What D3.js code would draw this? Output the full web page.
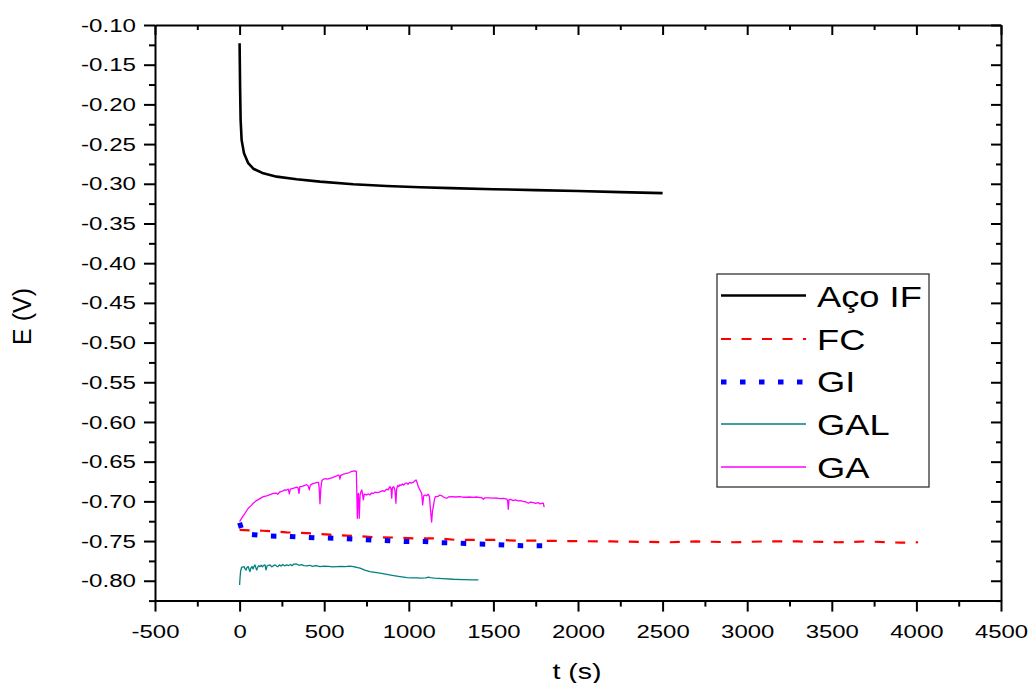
<!DOCTYPE html>
<html>
<head>
<meta charset="utf-8">
<script src="https://cdn.jsdelivr.net/npm/d3@7"></script>
<style>
  html, body { margin: 0; padding: 0; background: #fff; }
  svg { display: block; }
  text { font-family: "Liberation Sans", Arial, sans-serif; fill: #000; }
</style>
</head>
<body>
<svg id="chart" width="1031" height="683"></svg>
<script>
// ---------------- data ----------------
const xTicks = [-500, 0, 500, 1000, 1500, 2000, 2500, 3000, 3500, 4000, 4500];
const xTickLabels = ["-500", "0", "500", "1000", "1500", "2000", "2500", "3000", "3500", "4000", "4500"];
const yTicks = [-0.80, -0.75, -0.70, -0.65, -0.60, -0.55, -0.50, -0.45, -0.40, -0.35, -0.30, -0.25, -0.20, -0.15, -0.10];
const yTickLabels = ["-0.80", "-0.75", "-0.70", "-0.65", "-0.60", "-0.55", "-0.50", "-0.45", "-0.40", "-0.35", "-0.30", "-0.25", "-0.20", "-0.15", "-0.10"];
const xMinorTicks = [-250, 250, 750, 1250, 1750, 2250, 2750, 3250, 3750, 4250];
const yMinorTicks = [-0.825, -0.775, -0.725, -0.675, -0.625, -0.575, -0.525, -0.475, -0.425, -0.375, -0.325, -0.275, -0.225, -0.175, -0.125];

const seriesNames = ["Aço IF", "FC", "GI", "GAL", "GA"];

const acoIF = [[0,-0.123],[3,-0.18],[6,-0.2196],[12,-0.245],[26,-0.2616],[51,-0.274],[81,-0.281],[140,-0.2868],
  [219,-0.291],[337,-0.2943],[475,-0.2973],[672,-0.3006],[869,-0.3028],[1066,-0.3044],[1250,-0.3055],[1500,-0.3068],
  [1750,-0.308],[2000,-0.309],[2250,-0.3105],[2500,-0.3118]];

const fc = [[0,-0.736],[138,-0.737],[278,-0.739],[397,-0.740],[534,-0.742],[670,-0.7435],[788,-0.745],[907,-0.7455],
  [1025,-0.7465],[1165,-0.7465],[1283,-0.7486],[1401,-0.7486],[1520,-0.7486],[1657,-0.7495],[1775,-0.7495],[1911,-0.750],
  [2200,-0.7505],[2544,-0.7515],[2700,-0.7505],[2916,-0.7515],[3100,-0.7505],[3300,-0.7505],[3537,-0.7515],[3700,-0.7505],
  [3903,-0.752],[4010,-0.7515]];

const gi = [[0,-0.727],[15,-0.737],[57,-0.7414],[160,-0.7436],[268,-0.744],[367,-0.745],[471,-0.746],[577,-0.7465],
  [682,-0.7477],[781,-0.7486],[885,-0.7495],[987,-0.7507],[1096,-0.7507],[1194,-0.752],[1298,-0.7527],[1401,-0.7536],
  [1470,-0.754],[1569,-0.7549],[1673,-0.756],[1775,-0.756],[1800,-0.756]];

const gal = [[0,-0.8053],[3,-0.795],[6,-0.788],[12,-0.783],[20,-0.7825],[26,-0.7822],[32,-0.785],[38,-0.7864],[44,-0.783],
  [51,-0.7822],[56,-0.7855],[61,-0.7885],[67,-0.784],[73,-0.7822],[80,-0.785],[86,-0.7815],[91,-0.7801],[96,-0.7835],
  [101,-0.7864],[108,-0.7825],[114,-0.781],[121,-0.7822],[128,-0.7805],[135,-0.7825],[142,-0.7805],[150,-0.7801],
  [156,-0.7864],[162,-0.7815],[170,-0.7805],[180,-0.7801],[190,-0.7825],[200,-0.781],[210,-0.780],[220,-0.7818],
  [227,-0.7822],[235,-0.780],[245,-0.7815],[255,-0.7795],[265,-0.7812],[278,-0.7801],[290,-0.7808],[300,-0.7795],
  [310,-0.781],[320,-0.779],[337,-0.7789],[350,-0.7805],[365,-0.7798],[380,-0.781],[397,-0.7813],[415,-0.7805],
  [430,-0.7818],[450,-0.7808],[475,-0.7822],[500,-0.7815],[525,-0.7818],[550,-0.7825],[574,-0.7822],[600,-0.7818],
  [625,-0.7822],[650,-0.7815],[672,-0.7822],[690,-0.783],[712,-0.7842],[740,-0.7865],[770,-0.7885],[800,-0.7895],
  [830,-0.7905],[870,-0.792],[910,-0.7935],[948,-0.7948],[970,-0.7955],[988,-0.796],[1020,-0.7965],[1050,-0.7965],
  [1066,-0.7968],[1100,-0.7965],[1118,-0.7955],[1125,-0.796],[1140,-0.7965],[1155,-0.7968],[1200,-0.7972],
  [1263,-0.7981],[1320,-0.7985],[1380,-0.799],[1411,-0.799]];

const ga = [[0,-0.7255],[10,-0.722],[20,-0.7185],[32,-0.715],[50,-0.709],[65,-0.706],[81,-0.7024],[100,-0.699],
  [120,-0.6965],[140,-0.694],[160,-0.693],[180,-0.6915],[199,-0.690],[215,-0.6895],[225,-0.691],[239,-0.688],
  [255,-0.687],[265,-0.6855],[275,-0.686],[288,-0.6847],[294,-0.6907],[300,-0.6845],[315,-0.6835],[325,-0.683],
  [337,-0.682],[345,-0.683],[351,-0.690],[356,-0.6815],[370,-0.681],[385,-0.680],[397,-0.679],[405,-0.6805],
  [412,-0.6856],[418,-0.6795],[430,-0.678],[445,-0.677],[456,-0.676],[466,-0.676],[470,-0.682],[475,-0.703],
  [480,-0.684],[486,-0.674],[495,-0.672],[510,-0.6715],[520,-0.672],[534,-0.671],[550,-0.670],[565,-0.6685],
  [575,-0.668],[583,-0.667],[590,-0.668],[593,-0.672],[597,-0.6675],[610,-0.666],[620,-0.6655],[633,-0.6646],
  [645,-0.664],[655,-0.663],[670,-0.662],[682,-0.6617],[690,-0.6625],[696,-0.7213],[699,-0.694],[702,-0.690],
  [705,-0.705],[707,-0.7213],[712,-0.692],[717,-0.688],[722,-0.6856],[726,-0.690],[731,-0.698],[737,-0.691],
  [745,-0.6915],[751,-0.692],[760,-0.6905],[770,-0.692],[780,-0.6895],[790,-0.690],[800,-0.6885],[815,-0.689],
  [830,-0.688],[845,-0.6865],[855,-0.6875],[869,-0.6847],[878,-0.6855],[888,-0.6815],[895,-0.684],[899,-0.696],
  [903,-0.683],[911,-0.6815],[918,-0.686],[924,-0.7024],[928,-0.684],[935,-0.680],[940,-0.6815],[948,-0.679],
  [955,-0.680],[962,-0.678],[970,-0.6795],[980,-0.677],[988,-0.677],[995,-0.6785],[1005,-0.676],[1015,-0.677],
  [1027,-0.676],[1035,-0.6745],[1043,-0.673],[1050,-0.677],[1056,-0.6815],[1066,-0.6856],[1076,-0.690],[1082,-0.7045],
  [1088,-0.693],[1096,-0.692],[1105,-0.693],[1115,-0.691],[1122,-0.694],[1130,-0.715],[1135,-0.726],[1140,-0.712],
  [1145,-0.7066],[1152,-0.697],[1158,-0.694],[1165,-0.694],[1175,-0.6935],[1184,-0.692],[1195,-0.693],[1205,-0.6945],
  [1215,-0.6955],[1224,-0.696],[1235,-0.6945],[1254,-0.694],[1275,-0.6945],[1300,-0.694],[1320,-0.6948],[1342,-0.6948],
  [1360,-0.6945],[1380,-0.695],[1400,-0.6945],[1421,-0.6953],[1430,-0.695],[1440,-0.6973],[1450,-0.6955],[1470,-0.6955],
  [1499,-0.696],[1520,-0.6958],[1540,-0.6965],[1560,-0.6962],[1579,-0.6973],[1584,-0.699],[1588,-0.710],[1592,-0.698],
  [1600,-0.6975],[1618,-0.699],[1630,-0.698],[1645,-0.6995],[1660,-0.699],[1677,-0.700],[1690,-0.7005],[1706,-0.7024],
  [1720,-0.701],[1736,-0.7016],[1750,-0.7025],[1765,-0.7015],[1775,-0.7032],[1785,-0.7025],[1795,-0.7024],[1800,-0.7074]];

// ---------------- layout ----------------
const svg = d3.select("#chart");
const L = 155, R = 1001, T = 25, B = 600.6;
const x = d3.scaleLinear().domain([-500, 4500]).range([L, R]);
const y = d3.scaleLinear().domain([-0.825, -0.10]).range([B, T]);

function stretch(sel, s) {
  sel.each(function () {
    const t = d3.select(this);
    const xv = +t.attr("x") || 0;
    t.attr("x", xv / s).attr("transform", `scale(${s},1)`);
  });
}

// clip
svg.append("defs").append("clipPath").attr("id", "clip")
  .append("rect").attr("x", L).attr("y", T).attr("width", R - L).attr("height", B - T);

// ---------------- series ----------------
const line = d3.line().x(d => x(d[0])).y(d => y(d[1]));
const styles = [
  { data: acoIF, color: "#000000", width: 2.6, dash: null, cap: "butt" },
  { data: fc, color: "#ff0000", width: 2.2, dash: "10,10.5", cap: "butt" },
  { data: gi, color: "#0000ff", width: 5, dash: "5.5,13.5", cap: "butt" },
  { data: gal, color: "#008080", width: 1.3, dash: null, cap: "butt" },
  { data: ga, color: "#ff00ff", width: 1.3, dash: null, cap: "butt" }
];
const plot = svg.append("g").attr("clip-path", "url(#clip)");
styles.forEach(s => {
  plot.append("path").datum(s.data)
    .attr("d", line)
    .attr("fill", "none")
    .attr("stroke", s.color)
    .attr("stroke-width", s.width)
    .attr("stroke-linejoin", "round")
    .attr("stroke-linecap", s.cap)
    .attr("stroke-dasharray", s.dash);
});

// ---------------- axes ----------------
const axisStyle = g => {
  g.selectAll("path.domain").attr("stroke", "#000").attr("stroke-width", 2);
  g.selectAll(".tick line").attr("stroke", "#000").attr("stroke-width", 2);
};

// bottom
const gB = svg.append("g").attr("transform", `translate(0,${B})`)
  .call(d3.axisBottom(x).tickValues(xTicks).tickFormat((d, i) => xTickLabels[i]).tickSize(11).tickSizeOuter(0).tickPadding(13))
  .call(axisStyle);
gB.selectAll("text").attr("font-size", 19).attr("font-family", "Liberation Sans, Arial, sans-serif").attr("fill", "#000").call(stretch, 1.26);
svg.append("g").attr("transform", `translate(0,${B})`)
  .call(d3.axisBottom(x).tickValues(xMinorTicks).tickFormat("").tickSize(6).tickSizeOuter(0))
  .call(axisStyle).select("path.domain").remove();

// left
const gL = svg.append("g").attr("transform", `translate(${L},0)`)
  .call(d3.axisLeft(y).tickValues(yTicks).tickFormat((d, i) => yTickLabels[i]).tickSize(11).tickSizeOuter(0).tickPadding(8))
  .call(axisStyle);
gL.selectAll("text").attr("font-size", 19).attr("font-family", "Liberation Sans, Arial, sans-serif").attr("fill", "#000").call(stretch, 1.27);
svg.append("g").attr("transform", `translate(${L},0)`)
  .call(d3.axisLeft(y).tickValues(yMinorTicks).tickFormat("").tickSize(6).tickSizeOuter(0))
  .call(axisStyle).select("path.domain").remove();

// top (ticks inward)
svg.append("g").attr("transform", `translate(0,${T})`)
  .call(d3.axisTop(x).tickValues(xTicks).tickFormat("").tickSize(-10).tickSizeOuter(0))
  .call(axisStyle);
svg.append("g").attr("transform", `translate(0,${T})`)
  .call(d3.axisTop(x).tickValues(xMinorTicks).tickFormat("").tickSize(-5).tickSizeOuter(0))
  .call(axisStyle).select("path.domain").remove();

// right (ticks inward)
svg.append("g").attr("transform", `translate(${R},0)`)
  .call(d3.axisRight(y).tickValues(yTicks).tickFormat("").tickSize(-10).tickSizeOuter(0))
  .call(axisStyle);
svg.append("g").attr("transform", `translate(${R},0)`)
  .call(d3.axisRight(y).tickValues(yMinorTicks).tickFormat("").tickSize(-5).tickSizeOuter(0))
  .call(axisStyle).select("path.domain").remove();

// axis titles
svg.append("text").attr("x", 577 / 1.3).attr("y", 679)
  .attr("transform", "scale(1.3,1)")
  .attr("text-anchor", "middle").attr("font-size", 22).text("t (s)");
svg.append("text").attr("transform", "translate(31,316.5) rotate(-90)")
  .attr("text-anchor", "middle").attr("font-size", 25).text("E (V)");

// ---------------- legend ----------------
const lg = svg.append("g");
lg.append("rect").attr("x", 717).attr("y", 274).attr("width", 212).attr("height", 213)
  .attr("fill", "#fff").attr("stroke", "#333").attr("stroke-width", 1.3);
const legY = [295.5, 339, 382, 424, 467];
const legBase = [307, 350, 392.5, 435, 478];
styles.forEach((s, i) => {
  lg.append("line").attr("x1", 721).attr("x2", 806).attr("y1", legY[i]).attr("y2", legY[i])
    .attr("stroke", s.color).attr("stroke-width", s.width === 1.3 ? 1.4 : s.width)
    .attr("stroke-dasharray", s.dash);
  lg.append("text").attr("x", 817).attr("y", legBase[i]).attr("font-size", 30).text(seriesNames[i])
    .call(stretch, 1.21);
});
</script>
</body>
</html>
